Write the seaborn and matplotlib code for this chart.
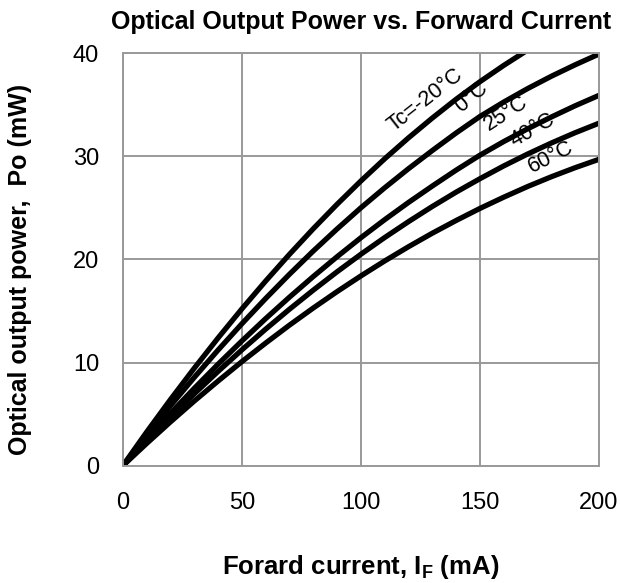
import numpy as np
import pandas as pd
import matplotlib
matplotlib.use("Agg")
import matplotlib.pyplot as plt
import seaborn as sns

# forward current (mA) and optical output power (mW)
current = [0, 10, 20, 30, 40, 50, 60, 70, 80, 90, 100,
           110, 120, 130, 140, 150, 160, 170, 180, 190, 200]

po_m20 = [0, 3.26, 6.41, 9.45, 12.38, 15.20, 17.90, 20.49, 22.97, 25.34, 27.6,
          29.75, 31.78, 33.70, 35.52, 37.22, 38.80, 40.28, 41.65, None, None]
po_0 = [0, 2.95, 5.81, 8.56, 11.21, 13.76, 16.21, 18.56, 20.81, 22.95, 25.0,
        26.94, 28.79, 30.55, 32.25, 33.85, 35.25, 36.55, 37.75, 38.86, 39.9]
po_25 = [0, 2.58, 5.08, 7.50, 9.84, 12.09, 14.26, 16.34, 18.34, 20.26, 22.1,
         23.85, 25.52, 27.11, 28.65, 30.1, 31.42, 32.65, 33.8, 34.89, 35.9]
po_40 = [0, 2.40, 4.72, 6.97, 9.14, 11.23, 13.24, 15.17, 17.02, 18.80, 20.5,
         22.12, 23.66, 25.13, 26.52, 27.82, 29.06, 30.21, 31.28, 32.28, 33.2]
po_60 = [0, 2.16, 4.25, 6.27, 8.21, 10.09, 11.89, 13.63, 15.29, 16.88, 18.4,
         19.85, 21.23, 22.54, 23.77, 24.94, 26.03, 27.06, 28.01, 28.89, 29.7]

temps = ["-20", "0", "25", "40", "60"]
labels = ["Tc=-20°C", "0°C", "25°C", "40°C", "60°C"]
label_x = [126.9, 146.3, 161.0, 172.3, 179.9]
label_y = [35.4, 35.7, 34.2, 32.5, 29.9]
label_rot = [38, 40, 33, 30, 27]

series = [po_m20, po_0, po_25, po_40, po_60]
rows = []
for t, vals in zip(temps, series):
    for i, p in zip(current, vals):
        if p is not None:
            rows.append({"If": i, "Po": p, "Tc": t})
df = pd.DataFrame(rows)

sns.set_style("white")
plt.rcParams["font.family"] = ["Liberation Sans", "DejaVu Sans"]
plt.rcParams["text.color"] = "black"
plt.rcParams["axes.labelcolor"] = "black"
plt.rcParams["xtick.color"] = "black"
plt.rcParams["ytick.color"] = "black"
plt.rcParams["mathtext.fontset"] = "custom"
plt.rcParams["mathtext.rm"] = "Liberation Sans"
plt.rcParams["mathtext.bf"] = "Liberation Sans:bold"

fig = plt.figure(figsize=(6.2, 5.83), dpi=100)
ax = fig.add_axes([0.198, 0.201, 0.768, 0.708])

sns.lineplot(data=df, x="If", y="Po", hue="Tc", palette=["black"] * 5,
             estimator=None, linewidth=3.8, legend=False, ax=ax)

for txt, x, y, r in zip(labels, label_x, label_y, label_rot):
    ax.text(x, y, txt, rotation=r, fontsize=15.5, ha="center", va="center",
            rotation_mode="anchor")

ax.set_xlim(0, 200)
ax.set_ylim(0, 40)
ax.set_xticks([0, 50, 100, 150, 200])
ax.set_yticks([0, 10, 20, 30, 40])
ax.grid(True, color="#999999", linewidth=1.4)
for s in ax.spines.values():
    s.set_color("#999999")
    s.set_linewidth(1.4)
ax.tick_params(axis="x", length=0, labelsize=17, pad=19)
ax.tick_params(axis="y", length=0, labelsize=17, pad=17)

ax.set_xlabel(r"Forard current, $\mathbf{I_F}$ (mA)", fontsize=18.5,
              fontweight="bold", labelpad=28)
ax.set_ylabel("Optical output power,  Po (mW)", fontsize=18,
              fontweight="bold")
ax.yaxis.set_label_coords(-0.19, 0.475)
ax.set_title("Optical Output Power vs. Forward Current", fontsize=18,
             fontweight="bold", pad=17)

fig.savefig("out.png", dpi=100)
